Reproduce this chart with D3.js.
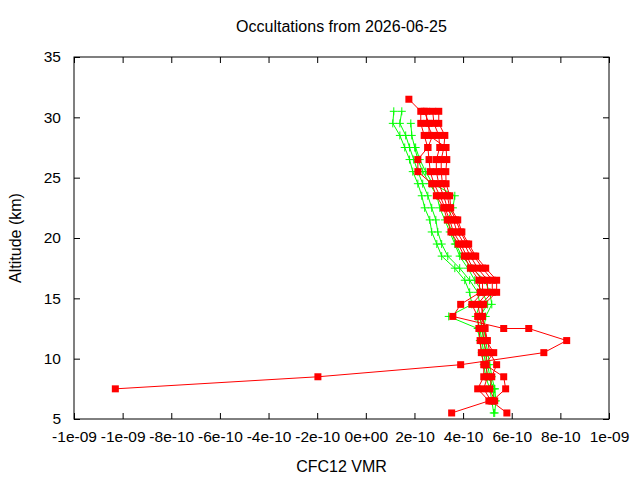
<!DOCTYPE html>
<html>
<head>
<meta charset="utf-8">
<script src="https://cdn.jsdelivr.net/npm/d3@7"></script>
<style>
  body { margin: 0; background: #fff; }
  text { font-family: "Liberation Sans", Arial, sans-serif; fill: #000; }
</style>
</head>
<body>
<div id="chart"></div>
<script>
// Valores en unidades de 1e-10 (VMR)
var UNIT = 1e-10;

// Rejilla de altitudes (km)
var altGrid = [31.5, 30.5, 29.5, 28.5, 27.5, 26.5, 25.5, 24.5, 23.5, 22.5, 21.5, 20.5, 19.5,
               18.5, 17.5, 16.5, 15.5, 14.5, 13.5, 12.5, 11.5, 10.5, 9.5, 8.5, 7.5, 6.5, 5.5];

// Perfil rojo con valores atipicos (tiene su propia lista de altitudes)
var redOutAlt = [31.5, 30.5, 29.5, 28.5, 27.5, 26.5, 25.5, 24.5, 23.5, 22.5, 21.5, 20.5, 19.5,
                 18.5, 17.5, 16.5, 15.5, 14.5, 13.5, 12.5, 12.5, 11.5, 10.5, 9.5, 8.5, 7.5];
var redOut = [1.77, 2.26, 2.26, 2.40, 2.55, 2.14, 2.14, 2.71, 2.90, 3.20, 3.35, 3.50, 3.80,
              4.05, 4.30, 4.65, 4.70, 3.90, 3.58, 5.67, 6.70, 8.26, 7.32, 3.90, -1.97, -10.3];

// Otros perfiles rojos (sobre altGrid, null = sin dato)
var redB = [null, 2.50, 2.50, 2.75, 2.55, 2.60, 2.65, 2.80, 3.05, 3.25, 3.45, 3.60, 3.90,
            4.15, 4.40, 4.80, 4.80, 4.36, 4.60, 4.65, 4.70, 4.75, 4.85, 4.85, 4.60, 5.06, 3.53];
var redC = [null, 2.75, 2.80, 3.00, 3.04, 2.90, 2.90, 3.00, 3.20, 3.35, 3.60, 3.75, 4.05,
            4.30, 4.60, 5.00, 5.00, 4.60, 4.70, 4.80, 4.85, 4.95, 4.95, 5.00, 4.85, 5.15, 5.80];
var redD = [null, 3.00, 3.00, 3.25, 3.21, 3.10, 3.10, 3.15, 3.35, 3.45, 3.70, 3.90, 4.15,
            4.45, 4.80, 5.20, 5.20, 4.75, 4.80, 4.90, 5.00, 5.10, 5.38, 5.18, 5.10, 5.30, null];
var redE = [null, 2.40, 2.60, 2.60, 3.30, 3.33, 3.29, 3.30, 3.45, 3.49, 3.78, 3.95, 4.23,
            4.52, 4.93, 5.38, 5.38, 4.85, 4.75, 4.89, 4.95, 5.26, 4.90, 5.67, 5.75, 5.20, null];

// Perfiles verdes
var greenA = [null, 1.15, 1.11, 1.40, 1.60, 1.80, 1.93, 2.14, 2.30, 2.42, 2.63, 2.71, 2.92,
              3.12, 3.66, 4.07, 4.27, 4.36, 3.41, 4.60, 4.69, 4.77, 4.85, 4.93, 5.10, 5.18, 5.26];
var greenB = [null, 1.48, 1.40, 1.64, 1.80, 1.97, 2.14, 2.34, 2.55, 2.71, 2.88, 2.96, 3.12,
              3.37, 3.86, 4.27, 4.60, 4.69, 4.52, 4.69, 4.77, 4.85, 4.93, 5.01, 5.30, 5.22, null];
var greenC = [null, null, 1.85, 1.89, 2.01, 2.14, 2.34, 2.63, 2.92, 3.04, 3.25, 3.45, 3.66,
              3.86, 4.19, 4.48, 4.81, 5.01, 4.69, 4.77, 4.85, 4.93, 5.01, 5.10, 5.22, 5.30, null];
var greenD = [null, null, null, null, 2.05, 2.22, 2.46, 2.75, 3.66, 3.58, 3.37, 3.53, 3.70,
              3.95, 4.36, 4.89, 5.10, 5.18, 4.93, 4.85, 4.93, 5.01, 5.10, 5.18, 5.30, 5.35, 5.30];

// Etiquetas del eje X
var xTickValues = [-12, -10, -8, -6, -4, -2, 0, 2, 4, 6, 8, 10];
var xTickLabels = ["-1e-09", "-1e-09", "-8e-10", "-6e-10", "-4e-10", "-2e-10", "0e+00",
                   "2e-10", "4e-10", "6e-10", "8e-10", "1e-09"];
var yTickValues = [5, 10, 15, 20, 25, 30, 35];

var svgWidth = 640, svgHeight = 480;
var margin = {top: 57, right: 31, bottom: 61, left: 74};
var width = svgWidth - margin.left - margin.right;
var height = svgHeight - margin.top - margin.bottom;

var xScale = d3.scaleLinear().domain([-1.2e-9, 1e-9]).range([0, width]);
var yScale = d3.scaleLinear().domain([5, 35]).range([height, 0]);

var svg = d3.select("#chart").append("svg")
    .attr("width", svgWidth)
    .attr("height", svgHeight)
  .append("g")
    .attr("transform", "translate(" + margin.left + "," + margin.top + ")");

function toPoints(alts, vals) {
  var pts = [];
  for (var i = 0; i < vals.length; i++) {
    if (vals[i] !== null) pts.push({alt: alts[i], v: vals[i] * UNIT});
  }
  return pts;
}

var line = d3.line()
    .x(function(d) { return xScale(d.v); })
    .y(function(d) { return yScale(d.alt); });

var greens = [greenA, greenB, greenC, greenD].map(function(p) { return toPoints(altGrid, p); });
var reds = [toPoints(redOutAlt, redOut)].concat(
    [redB, redC, redD, redE].map(function(p) { return toPoints(altGrid, p); }));

// Serie verde (lineas y cruces)
greens.forEach(function(pts) {
  svg.append("path").datum(pts)
      .attr("d", line).attr("fill", "none")
      .attr("stroke", "#00ff00").attr("stroke-width", 1);
  svg.selectAll(null).data(pts).enter().append("path")
      .attr("d", function(d) {
        var x = xScale(d.v), y = yScale(d.alt);
        return "M" + (x - 4) + "," + y + "H" + (x + 4) + "M" + x + "," + (y - 4) + "V" + (y + 4);
      })
      .attr("stroke", "#00ff00").attr("stroke-width", 1).attr("fill", "none");
});

// Serie roja (lineas y cuadrados)
reds.forEach(function(pts) {
  svg.append("path").datum(pts)
      .attr("d", line).attr("fill", "none")
      .attr("stroke", "#ff0000").attr("stroke-width", 1);
  svg.selectAll(null).data(pts).enter().append("rect")
      .attr("x", function(d) { return xScale(d.v) - 3.5; })
      .attr("y", function(d) { return yScale(d.alt) - 3.5; })
      .attr("width", 7).attr("height", 7)
      .attr("fill", "#ff0000");
});

// Marco
svg.append("rect")
    .attr("x", 0).attr("y", 0).attr("width", width).attr("height", height)
    .attr("fill", "none").attr("stroke", "#000").attr("stroke-width", 1);

// Ejes (marcas hacia dentro, tambien en los lados opuestos)
var fmtX = function(d, i) { return xTickLabels[i]; };
svg.append("g").attr("transform", "translate(0," + height + ")")
    .call(d3.axisBottom(xScale).tickValues(xTickValues.map(function(v) { return v * UNIT; }))
      .tickFormat(fmtX).tickSizeInner(-6).tickSizeOuter(0).tickPadding(12));
svg.append("g")
    .call(d3.axisTop(xScale).tickValues(xTickValues.map(function(v) { return v * UNIT; }))
      .tickFormat("").tickSizeInner(-6).tickSizeOuter(0));
svg.append("g")
    .call(d3.axisLeft(yScale).tickValues(yTickValues).tickFormat(d3.format("d"))
      .tickSizeInner(-6).tickSizeOuter(0).tickPadding(13));
svg.append("g").attr("transform", "translate(" + width + ",0)")
    .call(d3.axisRight(yScale).tickValues(yTickValues).tickFormat("")
      .tickSizeInner(-6).tickSizeOuter(0));

svg.selectAll(".domain").remove();
svg.selectAll(".tick line").attr("stroke", "#000");
svg.selectAll(".tick text").style("font-size", "15.5px")
    .style("font-family", "Liberation Sans, Arial, sans-serif");

// Titulo
svg.append("text")
    .attr("x", width / 2).attr("y", -25)
    .attr("text-anchor", "middle").style("font-size", "16px")
    .text("Occultations from 2026-06-25");

// Titulo eje X
svg.append("text")
    .attr("x", width / 2).attr("y", height + 53)
    .attr("text-anchor", "middle").style("font-size", "16px")
    .text("CFC12 VMR");

// Titulo eje Y
svg.append("text")
    .attr("transform", "rotate(-90)")
    .attr("x", -height / 2).attr("y", -53)
    .attr("text-anchor", "middle").style("font-size", "16px")
    .text("Altitude (km)");
</script>
</body>
</html>
